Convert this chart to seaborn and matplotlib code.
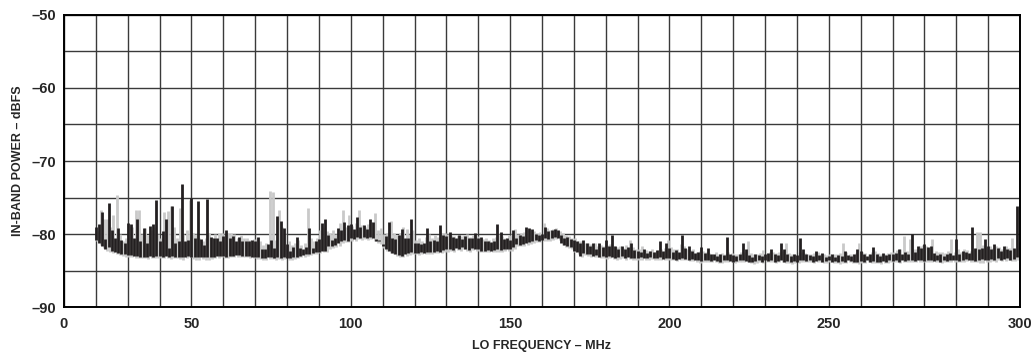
import numpy as np
import pandas as pd
import matplotlib
matplotlib.use("Agg")
import matplotlib.pyplot as plt
import seaborn as sns

# LO frequency steps (axis units, 10 per grid division)
FREQS = list(range(10, 301))

# black trace: top / bottom of each bar (dBFS)
BLACK_TOP = [
    -79.1, -78.6, -77.0, -80.7, -75.8, -79.5, -80.5, -79.2, -80.8, -81.2,
    -78.5, -78.6, -80.5, -78.0, -81.0, -79.2, -81.3, -78.9, -78.6, -75.3,
    -81.0, -79.6, -77.9, -81.9, -76.2, -81.3, -81.0, -73.1, -81.0, -80.8,
    -75.0, -80.5, -75.5, -80.7, -81.5, -75.2, -80.4, -80.5, -80.6, -81.0,
    -80.3, -79.4, -80.6, -80.3, -81.0, -80.4, -81.0, -80.9, -81.0, -80.8,
    -80.9, -80.4, -82.1, -82.0, -81.4, -80.8, -81.9, -77.6, -78.2, -79.2,
    -81.4, -82.3, -81.8, -80.4, -81.9, -82.0, -81.8, -79.2, -81.9, -81.0,
    -80.7, -78.5, -77.9, -80.2, -80.8, -80.5, -79.2, -79.5, -78.4, -78.8,
    -78.6, -79.3, -77.7, -79.1, -78.8, -79.3, -77.9, -78.4, -80.7, -80.8,
    -81.4, -80.3, -78.4, -80.5, -80.7, -80.2, -79.3, -80.5, -80.6, -77.9,
    -81.2, -81.3, -81.4, -81.2, -79.2, -80.9, -80.8, -81.0, -78.8, -80.2,
    -80.3, -79.7, -80.4, -80.6, -80.2, -80.7, -80.3, -80.5, -80.6, -79.9,
    -80.6, -80.4, -81.0, -80.9, -81.1, -81.0, -78.6, -79.7, -80.7, -80.6,
    -80.8, -79.4, -80.5, -80.2, -80.3, -79.0, -79.2, -79.3, -80.0, -80.1,
    -80.0, -79.0, -79.6, -79.4, -79.3, -79.4, -80.2, -80.5, -80.4, -80.7,
    -80.8, -80.9, -81.2, -80.8, -81.2, -81.6, -81.2, -82.0, -81.3, -81.8,
    -80.8, -81.6, -80.2, -81.7, -82.0, -81.6, -82.1, -81.8, -81.3, -82.2,
    -82.3, -82.5, -82.1, -82.6, -82.3, -82.4, -82.2, -81.0, -82.3, -81.3,
    -81.9, -82.4, -82.2, -82.5, -80.1, -81.9, -81.6, -82.3, -82.6, -82.4,
    -81.8, -82.6, -81.9, -82.8, -82.7, -83.0, -82.7, -82.9, -80.4, -82.8,
    -82.9, -83.0, -82.7, -81.2, -82.1, -82.9, -83.1, -82.8, -82.9, -83.0,
    -82.8, -82.6, -82.1, -82.7, -82.9, -81.3, -82.1, -82.8, -83.0, -82.7,
    -82.9, -80.5, -82.0, -82.8, -82.9, -83.0, -82.3, -82.9, -82.6, -83.1,
    -83.0, -82.8, -83.1, -82.9, -83.0, -82.3, -82.9, -83.0, -82.8, -82.1,
    -82.3, -82.8, -83.0, -82.7, -81.8, -82.8, -83.0, -82.6, -82.9, -82.7,
    -82.8, -82.6, -82.1, -82.7, -82.5, -82.8, -80.0, -82.4, -81.6, -81.9,
    -81.4, -81.8, -81.6, -82.6, -82.9, -82.7, -83.0, -82.8, -82.6, -82.9,
    -80.7, -82.7, -82.3, -82.4, -82.6, -79.0, -81.9, -82.0, -81.9, -80.7,
    -81.6, -82.1, -81.4, -81.9, -82.3, -81.7, -82.0, -82.2, -81.9, -76.2,
    -81.1,
]

BLACK_BOTTOM = [
    -80.8, -81.2, -81.6, -82.0, -81.8, -82.3, -82.4, -82.6, -82.7, -82.8,
    -82.9, -82.9, -83.0, -83.0, -83.1, -83.1, -83.1, -83.0, -83.1, -83.0,
    -83.0, -83.1, -83.0, -83.1, -83.0, -83.1, -83.1, -83.2, -83.1, -83.0,
    -83.1, -83.2, -83.2, -83.2, -83.1, -83.2, -83.2, -83.1, -83.0, -83.0,
    -83.0, -83.1, -83.0, -83.0, -82.9, -82.9, -83.0, -83.0, -83.0, -83.1,
    -83.1, -83.2, -83.3, -83.3, -83.2, -83.2, -83.3, -83.2, -83.3, -83.2,
    -83.3, -83.3, -83.2, -83.1, -83.0, -82.9, -82.8, -82.7, -82.6, -82.5,
    -82.4, -82.3, -82.3, -81.6, -81.7, -81.5, -81.3, -81.0, -80.8, -80.9,
    -80.6, -80.7, -80.4, -80.5, -80.4, -80.5, -80.4, -80.6, -80.9, -81.0,
    -81.6, -82.1, -82.3, -82.6, -82.8, -82.9, -83.0, -82.8, -82.6, -82.5,
    -82.6, -82.6, -82.5, -82.6, -82.5, -82.4, -82.4, -82.3, -82.4, -82.2,
    -82.1, -82.0, -82.2, -81.9, -82.0, -81.8, -82.1, -82.2, -81.9, -82.0,
    -82.1, -82.3, -82.3, -82.2, -82.3, -82.2, -82.1, -82.2, -82.1, -82.0,
    -82.1, -81.8, -81.4, -81.5, -81.4, -81.3, -81.1, -81.0, -80.8, -80.9,
    -80.8, -80.6, -80.7, -80.6, -80.4, -80.5, -81.3, -81.5, -81.7, -81.8,
    -82.3, -82.5, -83.0, -82.6, -82.7, -82.8, -83.0, -82.9, -83.1, -83.0,
    -83.2, -83.0, -83.1, -83.3, -83.2, -83.0, -83.3, -83.2, -83.3, -83.3,
    -83.3, -83.2, -83.3, -83.3, -83.2, -83.3, -83.3, -83.2, -83.4, -83.3,
    -83.3, -83.4, -83.5, -83.4, -83.3, -83.4, -83.5, -83.4, -83.5, -83.6,
    -83.7, -83.5, -83.6, -83.7, -83.6, -83.7, -83.8, -83.6, -83.5, -83.7,
    -83.8, -83.7, -83.5, -83.6, -83.7, -83.8, -83.9, -83.7, -83.6, -83.8,
    -83.6, -83.7, -83.6, -83.8, -83.7, -83.6, -83.8, -83.7, -83.9, -83.7,
    -83.8, -83.6, -83.5, -83.7, -83.6, -83.8, -83.7, -83.6, -83.8, -83.7,
    -83.6, -83.8, -83.7, -83.9, -83.7, -83.8, -83.6, -83.7, -83.8, -83.9,
    -83.7, -83.8, -83.6, -83.8, -83.7, -83.8, -83.9, -83.7, -83.8, -83.6,
    -83.7, -83.6, -83.8, -83.5, -83.7, -83.6, -83.5, -83.7, -83.6, -83.5,
    -83.7, -83.6, -83.5, -83.7, -83.6, -83.8, -83.6, -83.7, -83.5, -83.6,
    -83.5, -83.7, -83.6, -83.4, -83.6, -83.5, -83.7, -83.6, -83.4, -83.5,
    -83.6, -83.4, -83.5, -83.3, -83.5, -83.4, -83.3, -83.5, -83.4, -83.2,
    -82.2,
]

# grey trace: top / bottom of each bar (dBFS)
GREY_TOP = [
    -79.6, -76.7, -78.0, -77.9, -79.0, -77.4, -74.6, -80.0, -81.0, -80.5,
    -78.9, -79.0, -76.7, -76.7, -80.0, -79.2, -80.2, -79.5, -79.0, -80.0,
    -80.5, -77.0, -76.9, -76.2, -79.0, -80.5, -76.5, -80.0, -79.5, -75.3,
    -79.8, -80.0, -80.5, -81.0, -80.5, -79.8, -80.5, -80.0, -79.8, -79.8,
    -80.0, -79.8, -79.8, -80.0, -80.5, -80.2, -80.5, -80.6, -80.8, -80.7,
    -80.6, -81.0, -81.5, -81.2, -74.1, -74.3, -80.8, -76.7, -79.0, -80.0,
    -81.0, -81.5, -81.2, -80.8, -81.5, -81.3, -76.4, -80.5, -81.0, -80.5,
    -79.5, -79.0, -79.6, -79.8, -79.4, -80.0, -78.5, -76.7, -79.0, -77.4,
    -78.9, -78.5, -76.7, -78.8, -79.0, -78.6, -78.4, -77.1, -79.5, -79.2,
    -80.0, -79.8, -78.2, -79.9, -80.2, -79.8, -79.0, -79.3, -80.0, -79.5,
    -80.8, -80.5, -80.9, -80.4, -80.0, -80.5, -80.2, -80.4, -79.8, -79.9,
    -80.0, -80.2, -80.3, -80.1, -80.3, -80.2, -80.0, -80.4, -80.2, -80.3,
    -80.5, -80.7, -80.6, -80.8, -80.5, -80.4, -80.0, -80.3, -80.5, -80.2,
    -80.0, -79.3, -80.0, -79.9, -79.7, -79.5, -79.4, -79.6, -79.8, -79.7,
    -78.5, -79.2, -79.4, -79.3, -79.2, -79.6, -79.9, -80.1, -80.3, -80.5,
    -80.6, -80.9, -81.0, -81.2, -81.2, -81.4, -81.3, -81.6, -81.5, -81.7,
    -81.5, -81.4, -81.6, -81.8, -81.7, -81.9, -81.5, -80.8, -81.8, -82.0,
    -82.1, -81.6, -82.2, -82.3, -82.1, -82.4, -82.2, -82.0, -81.9, -80.8,
    -81.8, -82.0, -82.1, -81.4, -81.6, -82.0, -82.2, -82.1, -82.4, -82.3,
    -82.3, -82.5, -82.6, -82.7, -82.5, -82.8, -82.6, -82.7, -82.5, -82.6,
    -82.7, -82.8, -82.5, -82.4, -81.0, -82.6, -82.8, -82.7, -82.6, -82.2,
    -82.6, -82.5, -82.4, -82.6, -82.5, -82.3, -81.3, -82.6, -82.8, -82.7,
    -82.5, -82.4, -82.6, -82.7, -82.8, -82.6, -82.5, -82.7, -82.8, -82.9,
    -82.8, -82.7, -82.8, -82.6, -81.3, -82.5, -82.7, -82.8, -82.6, -81.3,
    -82.4, -82.6, -82.7, -82.5, -82.3, -82.6, -82.8, -82.7, -82.6, -82.5,
    -82.4, -82.2, -82.0, -80.3, -82.3, -80.7, -82.1, -82.0, -81.7, -81.5,
    -81.6, -81.9, -80.7, -82.3, -82.5, -82.4, -82.6, -82.3, -80.7, -82.5,
    -82.0, -82.4, -82.1, -82.2, -82.3, -82.0, -79.7, -79.7, -81.5, -81.8,
    -81.7, -81.9, -81.6, -81.8, -82.0, -81.7, -81.9, -80.5, -82.0, -81.8,
    -81.5,
]

GREY_BOTTOM = [
    -81.0, -81.5, -81.9, -82.3, -82.4, -82.6, -82.8, -82.9, -83.0, -83.1,
    -83.2, -83.2, -83.3, -83.3, -83.3, -83.3, -83.4, -83.3, -83.3, -83.3,
    -83.3, -83.3, -83.3, -83.4, -83.3, -83.3, -83.4, -83.5, -83.3, -83.2,
    -83.4, -83.5, -83.6, -83.4, -83.5, -83.5, -83.4, -83.3, -83.3, -83.2,
    -83.3, -83.3, -83.2, -83.2, -83.1, -83.1, -83.2, -83.2, -83.3, -83.3,
    -83.4, -83.4, -83.5, -83.5, -83.4, -83.4, -83.5, -83.4, -83.5, -83.4,
    -83.5, -83.5, -83.4, -83.3, -83.2, -83.1, -83.0, -82.9, -82.8, -82.7,
    -82.6, -82.5, -82.4, -82.0, -81.9, -81.8, -81.6, -81.3, -81.1, -81.1,
    -80.9, -80.9, -80.7, -80.8, -80.7, -80.8, -80.7, -80.9, -81.2, -81.4,
    -81.9, -82.3, -82.6, -82.8, -83.0, -83.1, -83.2, -83.0, -82.9, -82.8,
    -82.8, -82.9, -82.8, -82.8, -82.7, -82.7, -82.6, -82.6, -82.6, -82.5,
    -82.4, -82.3, -82.4, -82.2, -82.3, -82.1, -82.3, -82.4, -82.2, -82.3,
    -82.4, -82.5, -82.5, -82.5, -82.5, -82.4, -82.4, -82.4, -82.3, -82.3,
    -82.3, -82.1, -81.7, -81.7, -81.6, -81.5, -81.4, -81.2, -81.1, -81.1,
    -81.0, -80.9, -80.9, -80.8, -80.7, -80.8, -81.5, -81.8, -81.9, -82.0,
    -82.5, -82.8, -83.2, -82.9, -83.0, -83.1, -83.2, -83.2, -83.3, -83.3,
    -83.4, -83.3, -83.4, -83.5, -83.4, -83.3, -83.5, -83.4, -83.5, -83.5,
    -83.5, -83.5, -83.5, -83.5, -83.4, -83.5, -83.5, -83.5, -83.6, -83.5,
    -83.5, -83.6, -83.7, -83.6, -83.6, -83.6, -83.7, -83.7, -83.8, -84.0,
    -83.9, -83.8, -83.8, -83.9, -83.9, -84.0, -84.0, -83.9, -83.8, -83.9,
    -84.0, -83.9, -83.8, -83.9, -83.9, -84.0, -84.1, -84.0, -83.9, -84.0,
    -83.9, -83.9, -83.9, -84.0, -83.9, -83.9, -84.0, -84.0, -84.1, -84.0,
    -84.0, -83.9, -83.8, -83.9, -83.9, -84.0, -83.9, -83.9, -84.0, -84.0,
    -83.9, -84.0, -84.0, -84.1, -84.0, -84.0, -83.9, -84.0, -84.0, -84.1,
    -84.0, -84.0, -83.9, -84.0, -84.0, -84.0, -84.1, -84.0, -84.0, -83.9,
    -83.9, -83.9, -84.0, -83.8, -83.9, -83.9, -83.8, -83.9, -83.9, -83.8,
    -83.9, -83.9, -83.8, -83.9, -83.9, -84.0, -83.9, -83.9, -83.8, -83.9,
    -83.8, -83.9, -83.9, -83.7, -83.8, -83.8, -83.9, -84.0, -84.0, -83.8,
    -83.8, -83.7, -83.8, -83.6, -83.7, -83.7, -83.6, -83.7, -83.7, -83.5,
    -82.8,
]

# axis ticks: the datasheet puts its labels on these grid lines
X_TICK_POS = [0, 40, 90, 140, 190, 240, 300]
X_TICK_LABELS = ["0", "50", "100", "150", "200", "250", "300"]
Y_TICKS = [-90, -80, -70, -60, -50]
Y_TICK_LABELS = ["\u201390", "\u201380", "\u201370", "\u201360", "\u201350"]

for name, arr in [("BLACK_TOP", BLACK_TOP), ("BLACK_BOTTOM", BLACK_BOTTOM),
                  ("GREY_TOP", GREY_TOP), ("GREY_BOTTOM", GREY_BOTTOM)]:
    assert len(arr) == len(FREQS), (name, len(arr))


def long_form(freqs, top, bottom, shift=0.0):
    x = np.array(freqs, dtype=float) + shift
    return pd.DataFrame({
        "freq": np.concatenate([x, x]),
        "dbfs": np.concatenate([top, bottom]),
    })


black_df = long_form(FREQS, BLACK_TOP, BLACK_BOTTOM)
grey_df = long_form(FREQS, GREY_TOP, GREY_BOTTOM, shift=0.5)

sns.set_style("white")
plt.rcParams["font.family"] = ["Liberation Sans", "DejaVu Sans"]

fig = plt.figure(figsize=(10.35, 3.56), dpi=100)
ax = fig.add_axes([0.0618, 0.1376, 0.9237, 0.8203])

# grid every 10 MHz / 5 dB
ax.set_xlim(0, 300)
ax.set_ylim(-90, -50)
ax.set_xticks(np.arange(0, 301, 10), minor=True)
ax.set_yticks(np.arange(-90, -49, 5), minor=True)
ax.xaxis.remove_overlapping_locs = False
ax.yaxis.remove_overlapping_locs = False
ax.grid(which="minor", color="#3a3a3a", linewidth=1.0)
ax.set_axisbelow(True)

# the range bars: one vertical segment per frequency
sns.lineplot(data=grey_df, x="freq", y="dbfs", units="freq", estimator=None,
             color="#c9c9c9", linewidth=2.0, ax=ax, legend=False)
sns.lineplot(data=black_df, x="freq", y="dbfs", units="freq", estimator=None,
             color="#231f20", linewidth=2.0, ax=ax, legend=False)
for line in ax.lines:
    line.set_solid_capstyle("butt")

ax.set_xticks(X_TICK_POS)
ax.set_xticklabels(X_TICK_LABELS)
ax.set_yticks(Y_TICKS)
ax.set_yticklabels(Y_TICK_LABELS)
ax.set_xlim(0, 300)
ax.set_ylim(-90, -50)
ax.tick_params(which="both", length=0)
ax.tick_params(axis="x", pad=7, labelsize=10.5)
ax.tick_params(axis="y", pad=6, labelsize=10.5)
for lab in ax.get_xticklabels() + ax.get_yticklabels():
    lab.set_fontweight("bold")

for s in ax.spines.values():
    s.set_color("black")
    s.set_linewidth(1.4)

ax.set_xlabel("LO FREQUENCY \u2013 MHz", fontsize=9, fontweight="bold", labelpad=7)
ax.set_ylabel("IN-BAND POWER \u2013 dBFS", fontsize=9, fontweight="bold", labelpad=5)

fig.savefig("out.png", dpi=100)
